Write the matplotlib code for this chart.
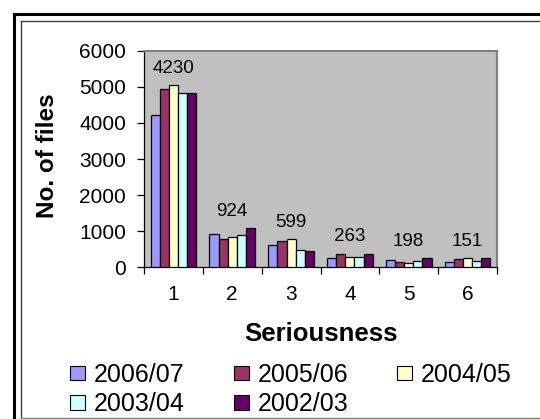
import numpy as np
import matplotlib
matplotlib.use("Agg")
import matplotlib.pyplot as plt
from matplotlib.lines import Line2D
from matplotlib.patches import Patch

plt.rcParams['font.family'] = ['Liberation Sans', 'DejaVu Sans']

categories = ['1', '2', '3', '4', '5', '6']
series_names = ['2006/07', '2005/06', '2004/05', '2003/04', '2002/03']
v_2006 = [4230, 924, 599, 263, 198, 151]
v_2005 = [4950, 770, 720, 370, 140, 210]
v_2004 = [5060, 840, 770, 290, 120, 240]
v_2003 = [4820, 900, 470, 290, 170, 170]
v_2002 = [4820, 1070, 440, 360, 250, 250]
values = [v_2006, v_2005, v_2004, v_2003, v_2002]
colors = ['#9999FF', '#993366', '#FFFFCC', '#CCFFFF', '#660066']

W, H = 540, 419
fig = plt.figure(figsize=(W / 100, H / 100), dpi=100)
ax = fig.add_axes([144 / W, 1 - 267 / H, (497 - 144) / W, (267 - 51) / H])
ax.set_facecolor('#C0C0C0')

x = np.arange(len(categories))
bw = 0.155
handles = []
for i, (name, vals, c) in enumerate(zip(series_names, values, colors)):
    offs = (i - 2) * bw
    ax.bar(x + offs, vals, bw, color=c, edgecolor='black', linewidth=0.9, zorder=3)
    handles.append(Patch(facecolor=c, edgecolor='black', linewidth=0.8, label=name))

# data labels for the first series, centred over each group
for xi, v in zip(x, v_2006):
    top = max(s[xi] for s in values)
    ax.annotate(f'{v}', xy=(xi, top), xytext=(0, 6), textcoords='offset points',
                ha='center', va='bottom', fontsize=13.5)

ax.set_xlim(-0.5, len(categories) - 0.5)
ax.set_ylim(0, 6000)
ax.set_yticks(range(0, 6001, 1000))
ax.set_xticks(np.arange(-0.5, len(categories), 1.0))
ax.set_xticklabels([])
ax.set_xticks(x, minor=True)
ax.set_xticklabels(categories, minor=True)
ax.tick_params(axis='x', which='major', length=5, direction='out', width=0.9)
ax.tick_params(axis='x', which='minor', length=0, pad=13, labelsize=15)
ax.tick_params(axis='y', length=5, direction='out', width=0.9, labelsize=15, pad=8)

for s in ['top', 'right']:
    ax.spines[s].set_color('#808080')
    ax.spines[s].set_linewidth(1.5)
for s in ['left', 'bottom']:
    ax.spines[s].set_color('black')
    ax.spines[s].set_linewidth(0.9)

fig.text(321 / W, 1 - 334 / H, 'Seriousness', fontsize=18.5, fontweight='bold',
         ha='center', va='center')
fig.text(47 / W, 1 - 156 / H, 'No. of files', fontsize=17.5, fontweight='bold',
         ha='center', va='center', rotation=90)

order = [0, 3, 1, 4, 2]
fig.legend([handles[k] for k in order], [series_names[k] for k in order],
           ncol=3, loc='upper left', bbox_to_anchor=(70 / W, 1 - 363 / H),
           frameon=False, fontsize=18, handlelength=0.6, handleheight=0.52,
           handletextpad=0.36, columnspacing=1.95, labelspacing=0.21,
           borderaxespad=0, borderpad=0)

# chart frame (outer black, inner grey)
def fline(x0, y0, x1, y1, **kw):
    fig.add_artist(Line2D([x0 / W, x1 / W], [1 - y0 / H, 1 - y1 / H],
                          transform=fig.transFigure, **kw))

fline(14, 14, 14, H, color='black', linewidth=2.2)
fline(14, 14, W, 14, color='black', linewidth=2.2)
fline(21, 21.5, 21, 418, color='#404040', linewidth=1.0)
fline(21, 21.5, W, 21.5, color='#404040', linewidth=1.0)
fline(21, 418, W, 418, color='#808080', linewidth=1.0)

fig.savefig('out.png', dpi=100)
